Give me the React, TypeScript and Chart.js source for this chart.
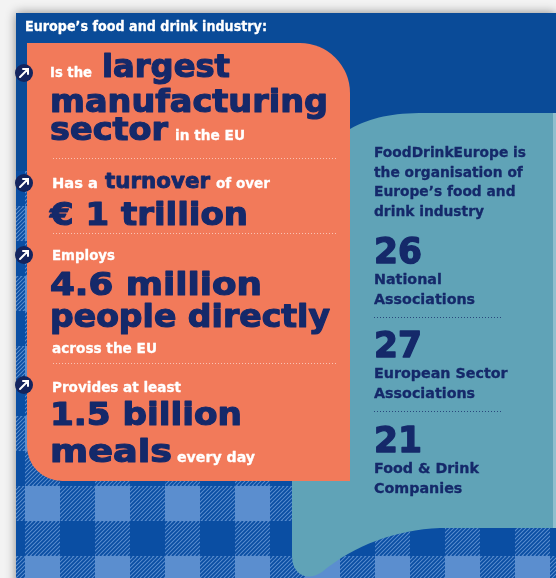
import React, { useEffect, useRef } from "react";
import { Chart, registerables } from "chart.js";

Chart.register(...registerables);

// ---- content ----
const title = "Europe’s food and drink industry:";
const factLeads = ["Is the", "Has a", "Employs", "Provides at least"];
const factFigures = [
  ["largest", "manufacturing", "sector"],
  ["turnover", "€ 1 trillion"],
  ["4.6 million", "people directly"],
  ["1.5 billion", "meals"],
];
const factTails = ["in the EU", "of over", "across the EU", "every day"];
const orgIntro = ["FoodDrinkEurope is", "the organisation of", "Europe’s food and", "drink industry"];
const statValues = [26, 27, 21];
const statLabels = [
  ["National", "Associations"],
  ["European Sector", "Associations"],
  ["Food & Drink", "Companies"],
];

// ---- styles ----
const NAVY = "#15296a";
const WHITE = "#ffffff";
const ORANGE = "#f27a5a";
const TEAL = "#60a3b7";
const BLUE = "#0a4b98";
const LIGHT = "#5b8ecf";
const DARK = "#0a4ea3";
const FAMILY = "'DejaVu Sans', 'Open Sans', sans-serif";

const font = (size: number, weight = 700) => `${weight} ${size}px ${FAMILY}`;

// draw text at x/baseline y; stretched horizontally to a width if given
function fitText(
  ctx: CanvasRenderingContext2D,
  text: string,
  x: number,
  y: number,
  size: number,
  width: number | null,
  color: string,
  heavy = 0
) {
  ctx.save();
  ctx.font = font(size, 700);
  ctx.fillStyle = color;
  const w = ctx.measureText(text).width;
  ctx.translate(x, y);
  if (width) ctx.scale(width / w, 1);
  ctx.fillText(text, 0, 0);
  if (heavy > 0) {
    ctx.strokeStyle = color;
    ctx.lineWidth = heavy;
    ctx.lineJoin = "round";
    ctx.strokeText(text, 0, 0);
  }
  ctx.restore();
}

function arrowIcon(ctx: CanvasRenderingContext2D, cx: number, cy: number) {
  ctx.save();
  ctx.beginPath();
  ctx.arc(cx, cy, 9, 0, Math.PI * 2);
  ctx.fillStyle = "#13245e";
  ctx.fill();
  ctx.strokeStyle = WHITE;
  ctx.lineWidth = 2;
  ctx.lineCap = "round";
  ctx.beginPath();
  ctx.moveTo(cx - 4, cy + 4);
  ctx.lineTo(cx + 4, cy - 4);
  ctx.moveTo(cx - 1, cy - 4);
  ctx.lineTo(cx + 4, cy - 4);
  ctx.lineTo(cx + 4, cy + 1);
  ctx.stroke();
  ctx.restore();
}

function dotted(ctx: CanvasRenderingContext2D, x1: number, x2: number, y: number, color: string) {
  ctx.save();
  ctx.strokeStyle = color;
  ctx.lineWidth = 1;
  ctx.setLineDash([1, 2]);
  ctx.beginPath();
  ctx.moveTo(x1, y + 0.5);
  ctx.lineTo(x2, y + 0.5);
  ctx.stroke();
  ctx.restore();
}

function gingham(ctx: CanvasRenderingContext2D, x0: number, y0: number, x1: number, y1: number) {
  const cell = 35;
  const colOrigin = -10;
  const rowOrigin = 171;
  ctx.save();
  ctx.beginPath();
  ctx.rect(x0, y0, x1 - x0, y1 - y0);
  ctx.clip();
  for (let i = 0; colOrigin + i * cell < x1; i++) {
    for (let j = 0; rowOrigin + j * cell < y1; j++) {
      const x = colOrigin + i * cell;
      const y = rowOrigin + j * cell;
      const colDark = i % 2 === 0;
      const rowDark = j % 2 === 0;
      if (colDark && rowDark) {
        ctx.fillStyle = DARK;
        ctx.fillRect(x, y, cell, cell);
      } else if (!colDark && !rowDark) {
        ctx.fillStyle = LIGHT;
        ctx.fillRect(x, y, cell, cell);
      } else {
        ctx.fillStyle = LIGHT;
        ctx.fillRect(x, y, cell, cell);
        ctx.save();
        ctx.beginPath();
        ctx.rect(x, y, cell, cell);
        ctx.clip();
        ctx.strokeStyle = DARK;
        ctx.lineWidth = 1.8;
        ctx.beginPath();
        const start = Math.floor((x + y) / 4) * 4;
        for (let c = start; c < x + y + 2 * cell + 4; c += 4) {
          ctx.moveTo(c - y, y);
          ctx.lineTo(c - (y + cell), y + cell);
        }
        ctx.stroke();
        ctx.restore();
      }
    }
  }
  ctx.restore();
}

const infographic = {
  id: "infographic",
  beforeDraw(chart: any) {
    const ctx: CanvasRenderingContext2D = chart.ctx;
    const W = chart.width;
    const H = chart.height;
    ctx.save();
    ctx.textBaseline = "alphabetic";
    ctx.textAlign = "left";

    // page + shadowed blue panel
    ctx.fillStyle = "#f3f3f3";
    ctx.fillRect(0, 0, W, H);
    ctx.save();
    ctx.shadowColor = "rgba(0,0,0,0.45)";
    ctx.shadowBlur = 10;
    ctx.fillStyle = BLUE;
    ctx.fillRect(16, 13, 540, H);
    ctx.restore();

    // gingham tablecloth
    gingham(ctx, 16, 171, 556, H);

    // teal panel
    ctx.beginPath();
    ctx.moveTo(330, 135);
    ctx.lineTo(350, 129);
    ctx.bezierCurveTo(372, 117, 392, 113, 425, 113);
    ctx.lineTo(553, 113);
    ctx.lineTo(553, 528);
    ctx.lineTo(440, 528);
    ctx.bezierCurveTo(395, 530, 355, 545, 322, 572);
    ctx.quadraticCurveTo(310, 580, 300, 574);
    ctx.quadraticCurveTo(292, 568, 292, 556);
    ctx.lineTo(292, 470);
    ctx.lineTo(330, 470);
    ctx.closePath();
    ctx.fillStyle = TEAL;
    ctx.fill();
    ctx.fillStyle = "#8fbfce";
    ctx.fillRect(553, 113, 3, 415);

    // orange panel
    ctx.beginPath();
    ctx.moveTo(27, 43);
    ctx.lineTo(300, 43);
    ctx.arcTo(350, 43, 350, 93, 50);
    ctx.lineTo(350, 481);
    ctx.lineTo(62, 481);
    ctx.arcTo(27, 481, 27, 446, 35);
    ctx.closePath();
    ctx.fillStyle = ORANGE;
    ctx.fill();

    // title
    fitText(ctx, title, 25, 31, 13.5, 242, WHITE, 0.3);

    const big = 32;
    const mid = 22;
    const small = 13.5;
    const hv = 1.2;
    const dotCol = "rgba(255,255,255,0.55)";

    // fact 1
    arrowIcon(ctx, 24, 73);
    fitText(ctx, factLeads[0], 50, 77, small, 42, WHITE, 0.3);
    fitText(ctx, factFigures[0][0], 102, 77, big, 128, NAVY, hv);
    fitText(ctx, factFigures[0][1], 50, 112, big, 278, NAVY, hv);
    fitText(ctx, factFigures[0][2], 50, 140, big, 118, NAVY, hv);
    fitText(ctx, factTails[0], 175, 140, small, 70, WHITE, 0.3);
    dotted(ctx, 53, 338, 158, dotCol);

    // fact 2
    arrowIcon(ctx, 24, 183);
    fitText(ctx, factLeads[1], 52, 188, small + 1, 46, WHITE, 0.3);
    fitText(ctx, factFigures[1][0], 105, 188, mid, 105, NAVY, 0.9);
    fitText(ctx, factTails[1], 216, 188, small + 1, 54, WHITE, 0.3);
    fitText(ctx, factFigures[1][1], 50, 225, big, 198, NAVY, hv);
    dotted(ctx, 53, 338, 233, dotCol);

    // fact 3
    arrowIcon(ctx, 24, 255);
    fitText(ctx, factLeads[2], 52, 260, small, 63, WHITE, 0.3);
    fitText(ctx, factFigures[2][0], 50, 295, big, 212, NAVY, hv);
    fitText(ctx, factFigures[2][1], 50, 327, big, 280, NAVY, hv);
    fitText(ctx, factTails[2], 52, 353, small, 105, WHITE, 0.3);
    dotted(ctx, 53, 338, 363, dotCol);

    // fact 4
    arrowIcon(ctx, 24, 385);
    fitText(ctx, factLeads[3], 52, 392, small, 129, WHITE, 0.3);
    fitText(ctx, factFigures[3][0], 50, 425, big, 192, NAVY, hv);
    fitText(ctx, factFigures[3][1], 50, 462, big, 122, NAVY, hv);
    fitText(ctx, factTails[3], 177, 462, small, 78, WHITE, 0.3);

    // right column
    ctx.font = font(13.5, 700);
    const introScale = 152 / ctx.measureText(orgIntro[0]).width;
    orgIntro.forEach((line, i) => {
      ctx.font = font(13.5, 700);
      fitText(ctx, line, 374, 157 + i * 19.5, 13.5, ctx.measureText(line).width * introScale, NAVY, 0.3);
    });

    const statBase = [263, 357, 452];
    statValues.forEach((v, i) => {
      const y = statBase[i];
      fitText(ctx, String(v), 374, y, 36, 48, NAVY, 1.4);
      statLabels[i].forEach((line, k) => {
        ctx.font = font(14, 700);
        fitText(ctx, line, 374, y + 21 + k * 20, 14, ctx.measureText(line).width * introScale, NAVY, 0.3);
      });
      if (i < statValues.length - 1) dotted(ctx, 374, 502, y + 54, "rgba(21,41,106,0.75)");
    });

    ctx.restore();
  },
};

export default function App() {
  const ref = useRef<HTMLCanvasElement | null>(null);
  useEffect(() => {
    document.body.style.margin = "0";
    const canvas = ref.current!;
    const chart = new Chart(canvas, {
      type: "bar",
      data: { labels: [], datasets: [] },
      options: {
        animation: false,
        responsive: false,
        events: [],
        plugins: { legend: { display: false }, tooltip: { enabled: false } },
        scales: { x: { display: false }, y: { display: false } },
      },
      plugins: [infographic],
    });
    return () => chart.destroy();
  }, []);
  return (
    <div style={{ width: 556, height: 578 }}>
      <canvas ref={ref} width={556} height={578} style={{ display: "block", width: 556, height: 578 }} />
    </div>
  );
}
